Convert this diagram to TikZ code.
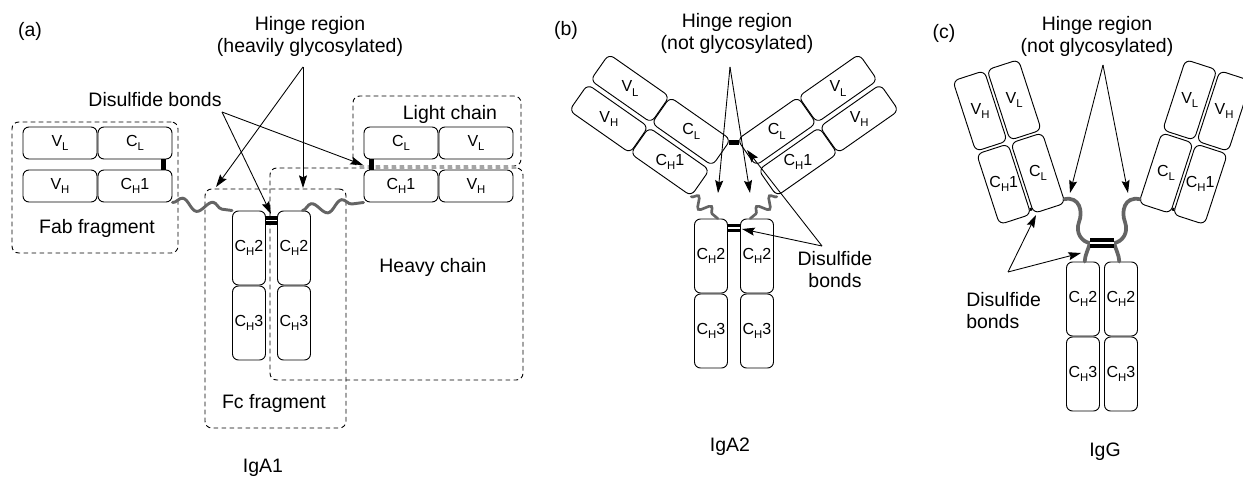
\documentclass[tikz,border=0pt]{standalone}
\usepackage{fontspec}
\setmainfont{Liberation Sans}
\usetikzlibrary{arrows.meta,decorations.pathmorphing,calc}
\definecolor{hingegray}{RGB}{100,100,100}
\newcommand{\dsub}[1]{\raisebox{-0.5ex}{\fontsize{8.5}{8.5}\selectfont #1}}
\tikzset{
  dom/.style={draw=black, fill=white, line width=0.7pt, rounded corners=4.5pt,
    minimum width=55.5pt, minimum height=24pt, inner sep=0pt,
    font=\fontsize{12}{12}\selectfont},
  vdom/.style={dom, minimum width=24.75pt, minimum height=55.5pt},
  dlab/.style={font=\fontsize{12}{12}\selectfont, inner sep=0pt},
  txt/.style={font=\fontsize{14.6}{16.5}\selectfont, align=center, inner sep=0pt},
  frag/.style={draw=black, line width=0.7pt, dash pattern=on 3.5pt off 2.5pt, rounded corners=5pt, inner sep=0pt},
  arr/.style={draw=black, line width=0.65pt, -{Stealth[length=9.5pt,width=6pt,inset=1.5pt]}},
  sbond/.style={draw=black, line width=3.6pt},
  dbond/.style={draw=black, double=white, line width=2.6pt, double distance=1.2pt},
  dbondc/.style={draw=black, double=white, line width=3.2pt, double distance=1.3pt},
  wave/.style={draw=hingegray, line width=2.2pt, line cap=round, decorate,
    decoration={snake, segment length=#1, amplitude=4.2pt}},
  waveb/.style={draw=hingegray, line width=2pt, line cap=round, decorate,
    decoration={snake, segment length=12.5pt, amplitude=#1}},
  hingec/.style={draw=hingegray, line width=2.8pt, line cap=round},
}
\begin{document}
\begin{tikzpicture}[x=0.75pt,y=-0.75pt]
\useasboundingbox (0,0) rectangle (1243,481);
\fill[white] (0,0) rectangle (1243,481);

% ================= (a) IgA1 =================
\node[txt] (labA) at (30,31) {(a)};
\node[txt] (hingeA) at (310,36) {Hinge region\\(heavily glycosylated)};
\node[txt] (disA) at (155,100) {Disulfide bonds};

\node[frag, minimum width=124.5pt, minimum height=98.25pt] (fab) at (95,187.5) {};
\node[frag, minimum width=126pt, minimum height=52.5pt] (light) at (437,131) {};
\node[frag, minimum width=189.75pt, minimum height=159pt] (heavy) at (396.5,274) {};
\node[frag, minimum width=105.75pt, minimum height=179.25pt] (fc) at (275.5,308.5) {};

\node[txt] (fabT) at (97,228) {Fab fragment};
\node[txt] (lightT) at (450,114) {Light chain};
\node[txt] (heavyT) at (433,267) {Heavy chain};
\node[txt] (fcT) at (274,403) {Fc fragment};

\node[dom] (vlA) at (60,143) {V\dsub{L}};
\node[dom] (clA) at (135,143) {C\dsub{L}};
\node[dom] (vhA) at (60,186) {V\dsub{H}};
\node[dom] (chA) at (135,186) {C\dsub{H}1};

\node[dom] (clA2) at (401,143) {C\dsub{L}};
\node[dom] (vlA2) at (476,143) {V\dsub{L}};
\node[dom] (chA2) at (401,186) {C\dsub{H}1};
\node[dom] (vhA2) at (476,186) {V\dsub{H}};

\node[vdom] (ch2A) at (249,248) {C\dsub{H}2};
\node[vdom] (ch3A) at (249,323) {C\dsub{H}3};
\node[vdom] (ch2A2) at (294,248) {C\dsub{H}2};
\node[vdom] (ch3A2) at (294,323) {C\dsub{H}3};

\draw[wave=23pt] (chA.south east) -- (ch2A.north west);
\draw[wave=23pt] ($(ch2A2.north)!0.5!(ch2A2.north east)$) -- (chA2.south west);

\draw[sbond] ($(clA.south west)!0.88!(clA.south east)$) -- ($(chA.north west)!0.88!(chA.north east)$);
\draw[sbond] ($(clA2.south west)!0.11!(clA2.south east)$) -- ($(chA2.north west)!0.11!(chA2.north east)$);
\draw[dbond] ([yshift=-7.5pt]ch2A.north east) -- ([yshift=-7.5pt]ch2A2.north west);

\coordinate (hA) at (303,67);
\coordinate (hA1) at (216,187);
\coordinate (hA2) at (303,188);
\draw[arr] (hA) -- (hA1);
\draw[arr] (hA) -- (hA2);
\coordinate (dA) at (222,112);
\coordinate (dA1) at (271,214);
\coordinate (dA2) at (363,165);
\draw[arr] (dA) -- (dA1);
\draw[arr] (dA) -- (dA2);

\node[txt] (igA1) at (263,468) {IgA1};

% ================= (b) IgA2 =================
\node[txt] (labB) at (566,30) {(b)};
\node[txt] (hingeB) at (737,33) {Hinge region\\(not glycosylated)};

\node[dom, rotate=-35] (vlB) at (630,88.4) {};
\node[dom, rotate=-35] (clB) at (691.2,131.4) {};
\node[dom, rotate=-35] (vhB) at (608.8,118.7) {};
\node[dom, rotate=-35] (chB) at (670,161.7) {};
\node[dlab] (vlBt) at (vlB) {V\dsub{L}};
\node[dlab] (clBt) at (clB) {C\dsub{L}};
\node[dlab] (vhBt) at (vhB) {V\dsub{H}};
\node[dlab] (chBt) at (chB) {C\dsub{H}1};

\node[dom, rotate=35] (vlB2) at (838,88.4) {};
\node[dom, rotate=35] (clB2) at (776.8,131.4) {};
\node[dom, rotate=35] (vhB2) at (859.2,118.7) {};
\node[dom, rotate=35] (chB2) at (798,161.7) {};
\node[dlab] (vlB2t) at (vlB2) {V\dsub{L}};
\node[dlab] (clB2t) at (clB2) {C\dsub{L}};
\node[dlab] (vhB2t) at (vhB2) {V\dsub{H}};
\node[dlab] (chB2t) at (chB2) {C\dsub{H}1};

\node[vdom] (ch2B) at (711,256) {C\dsub{H}2};
\node[vdom] (ch3B) at (711,331) {C\dsub{H}3};
\node[vdom] (ch2B2) at (757,256) {C\dsub{H}2};
\node[vdom] (ch3B2) at (757,331) {C\dsub{H}3};

\draw[waveb=4pt] (chB.south east) -- ($(ch2B.north)!0.4!(ch2B.north east)$);
\draw[waveb=-4pt] (chB2.south west) -- ($(ch2B2.north)!0.4!(ch2B2.north west)$);

\draw[sbond] ($(clB.north east)!0.12!(clB.south east)$) -- ($(clB2.north west)!0.12!(clB2.south west)$);
\draw[dbond] ([yshift=-7pt]ch2B.north east) -- ([yshift=-7pt]ch2B2.north west);

\coordinate (hB) at (730,67);
\coordinate (hB1) at (718,193);
\coordinate (hB2) at (750,193);
\draw[arr] (hB) -- (hB1);
\draw[arr] (hB) -- (hB2);
\node[txt] (disB) at (835,270) {Disulfide\\bonds};
\coordinate (dB) at (822,246);
\coordinate (dB1) at (742,229);
\coordinate (dB2) at (747,150);
\draw[arr] (dB) -- (dB1);
\draw[arr] (dB) -- (dB2);

\node[txt] (igA2) at (730,447) {IgA2};

% ================= (c) IgG =================
\node[txt] (labC) at (944,33) {(c)};
\node[txt] (hingeC) at (1097,36) {Hinge region\\(not glycosylated)};

\node[vdom, rotate=18] (vhC) at (980,111) {};
\node[vdom, rotate=18] (chC) at (1003.8,184.2) {};
\node[vdom, rotate=18] (vlC) at (1014.2,99.9) {};
\node[vdom, rotate=18] (clC) at (1038,173.1) {};
\node[dlab] (vhCt) at (vhC) {V\dsub{H}};
\node[dlab] (chCt) at (chC) {C\dsub{H}1};
\node[dlab] (vlCt) at (vlC) {V\dsub{L}};
\node[dlab] (clCt) at (clC) {C\dsub{L}};

\node[vdom, rotate=-18] (vhC2) at (1224,111) {};
\node[vdom, rotate=-18] (chC2) at (1200.2,184.2) {};
\node[vdom, rotate=-18] (vlC2) at (1189.8,99.9) {};
\node[vdom, rotate=-18] (clC2) at (1166,173.1) {};
\node[dlab] (vhC2t) at (vhC2) {V\dsub{H}};
\node[dlab] (chC2t) at (chC2) {C\dsub{H}1};
\node[dlab] (vlC2t) at (vlC2) {V\dsub{L}};
\node[dlab] (clC2t) at (clC2) {C\dsub{L}};

\draw[line width=2.2pt] ($(chC.south east)!0.07!(chC.north east)$) -- ($(clC.south west)!0.07!(clC.north west)$);
\draw[line width=2.2pt] ($(chC2.south west)!0.07!(chC2.north west)$) -- ($(clC2.south east)!0.07!(clC2.north east)$);

\node[vdom] (ch2C) at (1083,299) {C\dsub{H}2};
\node[vdom] (ch3C) at (1083,374) {C\dsub{H}3};
\node[vdom] (ch2C2) at (1121,299) {C\dsub{H}2};
\node[vdom] (ch3C2) at (1121,374) {C\dsub{H}3};

\coordinate (bcL) at (1090,243);
\coordinate (bcR) at (1114,243);
\draw[hingec] ($(clC.south east)!0.06!(clC.north east)$) .. controls (1080,196) and (1083,212) .. (1079,222)
  .. controls (1075,233) and (1082,242) .. (bcL) .. controls (1088,250) and (1085,255) .. ($(ch2C.north)!0.1!(ch2C.north east)$);
\draw[hingec] ($(clC2.south west)!0.06!(clC2.north west)$) .. controls (1124,196) and (1121,212) .. (1125,222)
  .. controls (1129,233) and (1122,242) .. (bcR) .. controls (1116,250) and (1119,255) .. ($(ch2C2.north)!0.1!(ch2C2.north west)$);
\draw[dbondc] (bcL) -- (bcR);

\coordinate (hC) at (1103,65);
\coordinate (hC1) at (1070,193);
\coordinate (hC2) at (1128,193);
\draw[arr] (hC) -- (hC1);
\draw[arr] (hC) -- (hC2);
\node[txt, align=left, anchor=west] (disC) at (966,311) {Disulfide\\bonds};
\coordinate (dC) at (1008,272);
\coordinate (dC1) at (1036,215);
\coordinate (dC2) at (1081,253);
\draw[arr] (dC) -- (dC1);
\draw[arr] (dC) -- (dC2);

\node[txt] (igG) at (1105,452) {IgG};
\end{tikzpicture}
\end{document}
